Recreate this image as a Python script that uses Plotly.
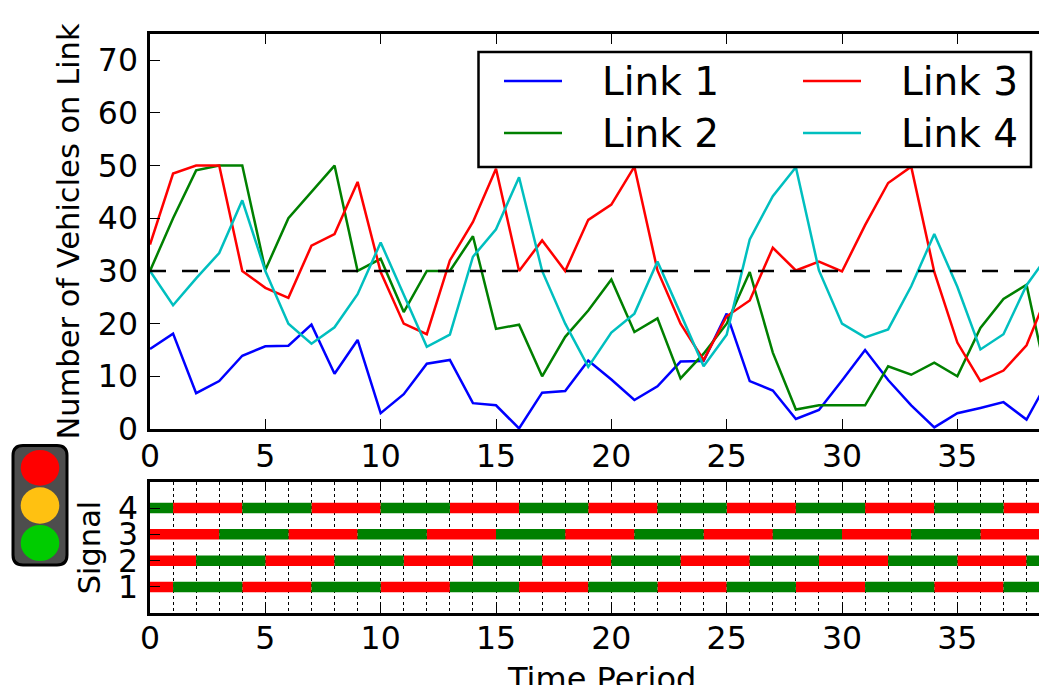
import plotly.graph_objects as go

W, H = 1039, 685
periods = list(range(40))
link1 = [15.2,18.1,6.8,9.1,13.9,15.7,15.8,19.8,10.5,16.9,3.0,6.6,12.4,13.1,4.9,4.5,0.1,6.9,7.2,13.0,9.4,5.5,8.1,12.8,12.9,21.9,9.1,7.3,1.9,3.6,9.2,15.0,9.3,4.5,0.3,3.0,4.0,5.1,1.8,9.7]
link2 = [30,40,49.1,50,50,30.2,40,45,50,30,32.3,22.2,30,30,36.6,19,19.8,10,17.5,22.5,28.4,18.4,21,9.6,14.3,20,29.8,14.5,3.7,4.5,4.5,4.5,11.9,10.3,12.6,10,19.2,24.7,27.4,7.2]
link3 = [35,48.5,50,50,30,26.8,24.9,34.8,37,46.9,29.8,20,18,32,39.3,49.4,30,35.8,30,39.7,42.6,49.8,30.1,20,13.1,21.4,24.4,34.4,30.1,31.8,29.9,38.7,46.7,49.8,29.8,16.4,9.1,11.1,15.9,26.6]
link4 = [30,23.5,28.6,33.4,43.4,30,20,16.2,19.3,25.6,35.4,25.4,15.6,17.9,32.7,37.9,47.8,30,20,11.8,18.3,21.9,31.8,21.9,11.9,17.9,36,44.2,49.7,30.1,20,17.4,18.9,27.1,37,27,15.1,18,27.3,33.4]
link_names = ["Link 1", "Link 2", "Link 3", "Link 4"]
link_colors = ["#0000ff", "#008000", "#ff0000", "#00bfbf"]
threshold_x = [0, 39]
threshold_y = [30, 30]
signal1 = "RGGGRRRGGGRRRGGGRRRGGGRRRGGGRRRGGGRRRGG"
signal2 = "RRGGGRRRGGGRRRGGGRRRGGGRRRGGGRRRGGGRRRG"
signal3 = "RRRGGGRRRGGGRRRGGGRRRGGGRRRGGGRRRGGGRRR"
signal4 = "GRRRGGGRRRGGGRRRGGGRRRGGGRRRGGGRRRGGGRR"
signals = [signal1, signal2, signal3, signal4]
top_ticks = [0, 10, 20, 30, 40, 50, 60, 70]
x_ticks = [0, 5, 10, 15, 20, 25, 30, 35]
sig_ticks = [1, 2, 3, 4]

def px(x): return x / W
def py(y): return 1 - y / H

fig = go.Figure()
for name, col, vals in zip(link_names, link_colors, [link1, link2, link3, link4]):
    fig.add_trace(go.Scatter(x=periods, y=vals, mode="lines", name=name, showlegend=False,
                             line=dict(color=col, width=2.5), xaxis="x", yaxis="y"))
fig.add_trace(go.Scatter(x=threshold_x, y=threshold_y, mode="lines", showlegend=False,
                         line=dict(color="black", width=2.5, dash="16px,16px"), xaxis="x", yaxis="y"))

for level, sig in zip(sig_ticks, signals):
    for code, col in (("R", "#ff0000"), ("G", "#008000")):
        xs, ys = [], []
        t = 0
        while t < len(sig):
            if sig[t] == code:
                s = t
                while t < len(sig) and sig[t] == code:
                    t += 1
                xs += [s, t, None]
                ys += [level, level, None]
            else:
                t += 1
        fig.add_trace(go.Scatter(x=xs, y=ys, mode="lines", showlegend=False,
                                 line=dict(color=col, width=10.5), xaxis="x2", yaxis="y2"))

font = "DejaVu Sans"
axis_common = dict(showline=True, linecolor="black", linewidth=2.5, ticks="inside", ticklen=10,
                   tickwidth=1.3, tickcolor="black", layer="above traces", zeroline=False, showgrid=False,
                   automargin=False, tickfont=dict(family=font, size=31.5, color="black"))

shapes = [
    dict(type="path", xref="paper", yref="paper",
         path=f"M {px(23)} {py(445.5)} L {px(57)} {py(445.5)} Q {px(67)} {py(445.5)} {px(67)} {py(455.5)} "
              f"L {px(67)} {py(555)} Q {px(67)} {py(565)} {px(57)} {py(565)} L {px(23)} {py(565)} "
              f"Q {px(13)} {py(565)} {px(13)} {py(555)} L {px(13)} {py(455.5)} Q {px(13)} {py(445.5)} {px(23)} {py(445.5)} Z",
         fillcolor="#4d4d4d", line=dict(color="black", width=3)),
]
for c, y0, y1 in (("#ff0000", 450, 485.7), ("#ffc111", 487.3, 523.7), ("#00cc00", 525, 561)):
    shapes.append(dict(type="circle", xref="paper", yref="paper", x0=px(20.7), x1=px(59.3),
                       y0=py(y1), y1=py(y0), fillcolor=c, line=dict(width=0)))

# legend box
shapes.append(dict(type="rect", xref="paper", yref="paper", x0=px(478.5), x1=px(1031), y0=py(167), y1=py(52),
                   fillcolor="white", line=dict(color="black", width=2.5)))
annotations = []
legend_pos = [(504, 81), (504, 133), (803, 81), (803, 133)]
for name, col, (lx, ly) in zip(link_names, link_colors, legend_pos):
    shapes.append(dict(type="line", xref="paper", yref="paper", x0=px(lx), x1=px(lx + 58),
                       y0=py(ly), y1=py(ly), line=dict(color=col, width=2.5)))
    annotations.append(dict(text=name, xref="paper", yref="paper", x=px(lx + 96), y=py(ly),
                            xanchor="left", yanchor="middle", showarrow=False,
                            font=dict(family=font, size=39, color="black")))
annotations.append(dict(text="Time Period", xref="paper", yref="paper", x=px(601), y=py(679),
                        xanchor="center", yanchor="middle", showarrow=False,
                        font=dict(family=font, size=32, color="black")))

fig.update_layout(
    width=W, height=H, autosize=False,
    margin=dict(l=0, r=0, t=0, b=0),
    paper_bgcolor="white", plot_bgcolor="white",
    font=dict(family=font, size=30, color="black"),
    shapes=shapes, annotations=annotations, showlegend=False,
    xaxis=dict(domain=[px(150), 1], range=[0, 38.54], tickvals=x_ticks, anchor="y", mirror="ticks",
               ticklabelstandoff=-3, **axis_common),
    yaxis=dict(domain=[py(429), py(33.9)], range=[0, 75], tickvals=top_ticks, anchor="x",
               ticklabelstandoff=3,
               title=dict(text="Number of Vehicles on Link", font=dict(family=font, size=30.5), standoff=10),
               **axis_common),
    xaxis2=dict(domain=[px(150), 1], range=[0, 38.54], tickvals=x_ticks, anchor="y2", mirror="ticks",
                ticklabelstandoff=-5,
                minor=dict(dtick=1, tick0=0, showgrid=True, gridcolor="black", gridwidth=1.3, griddash="3px,3px", ticks=""),
                **axis_common),
    yaxis2=dict(domain=[py(613.3), py(481.7)], range=[0, 5], tickvals=sig_ticks, anchor="x2",
                ticklabelstandoff=3,
                title=dict(text="Signal", font=dict(family=font, size=30.5), standoff=9),
                **axis_common),
)
fig.write_html("out.html", config=dict(displayModeBar=False),
               post_script="document.body.style.margin='0';document.body.style.overflow='hidden';")
